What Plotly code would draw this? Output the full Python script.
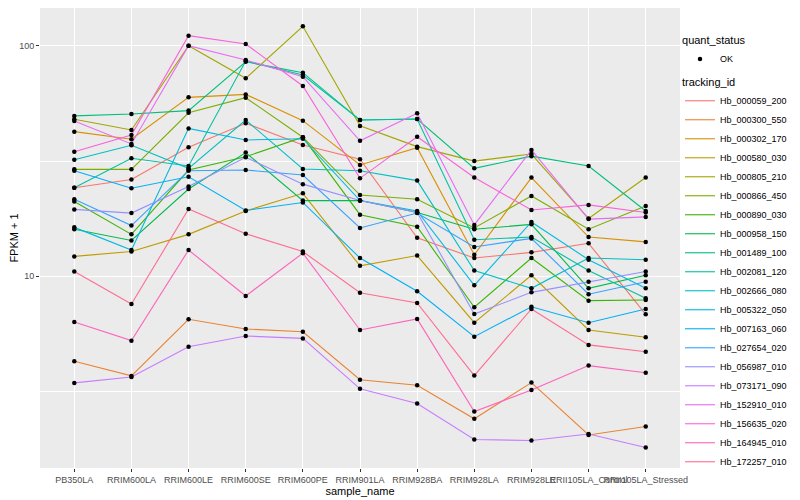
import plotly.graph_objects as go

# x categories
samples = ["PB350LA", "RRIM600LA", "RRIM600LE", "RRIM600SE", "RRIM600PE",
           "RRIM901LA", "RRIM928BA", "RRIM928LA", "RRIM928LE",
           "RRII105LA_Control", "RRII105LA_Stressed"]

# series (tracking_id) names and ggplot hue colours
tracking_ids = ["Hb_000059_200", "Hb_000300_550", "Hb_000302_170", "Hb_000580_030",
                "Hb_000805_210", "Hb_000866_450", "Hb_000890_030", "Hb_000958_150",
                "Hb_001489_100", "Hb_002081_120", "Hb_002666_080", "Hb_005322_050",
                "Hb_007163_060", "Hb_027654_020", "Hb_056987_010", "Hb_073171_090",
                "Hb_152910_010", "Hb_156635_020", "Hb_164945_010", "Hb_172257_010"]
colors = ["#F8766D", "#EA8331", "#D89000", "#C09B00", "#A3A500", "#7CAE00", "#39B600",
          "#00BB4E", "#00BF7D", "#00C1A3", "#00BFC4", "#00BAE0", "#00B0F6", "#35A2FF",
          "#9590FF", "#C77CFF", "#E76BF3", "#FA62DB", "#FF62BC", "#FF6C91"]

# FPKM + 1 values, one list per tracking_id
Hb_000059_200 = [24.2, 26.3, 36.3, 46.1, 37.1, 32.2, 14.7, 12.0, 12.7, 13.9, 6.84]
Hb_000300_550 = [4.28, 3.70, 6.51, 5.91, 5.75, 3.56, 3.37, 2.41, 3.46, 2.05, 2.23]
Hb_000302_170 = [42.4, 39.3, 59.7, 61.5, 47.3, 30.4, 36.1, 12.4, 26.8, 14.8, 14.1]
Hb_000580_030 = [12.2, 12.8, 15.2, 19.2, 22.9, 11.1, 12.3, 6.29, 10.1, 5.85, 5.44]
Hb_000805_210 = [48.0, 43.1, 100.0, 72.2, 121.4, 44.9, 36.5, 31.6, 33.9, 17.8, 26.8]
Hb_000866_450 = [29.1, 29.1, 51.2, 59.5, 40.1, 22.5, 21.6, 16.2, 22.3, 16.0, 20.2]
Hb_000890_030 = [21.1, 15.2, 28.9, 33.0, 40.1, 18.5, 16.4, 7.34, 12.0, 7.84, 7.89]
Hb_000958_150 = [16.0, 14.3, 23.9, 34.4, 21.3, 21.3, 18.9, 16.0, 16.8, 8.87, 10.1]
Hb_001489_100 = [49.6, 50.6, 52.3, 85.2, 76.4, 47.6, 48.1, 29.4, 33.2, 30.1, 19.2]
Hb_002081_120 = [24.2, 32.5, 30.1, 85.8, 74.6, 47.6, 48.1, 14.4, 14.8, 10.6, 8.03]
Hb_002666_080 = [32.0, 37.0, 29.4, 47.6, 29.2, 28.7, 26.0, 10.6, 8.87, 12.0, 11.8]
Hb_005322_050 = [16.3, 13.0, 43.8, 39.0, 39.5, 21.3, 19.2, 9.14, 17.2, 11.8, 8.87]
Hb_007163_060 = [28.7, 24.1, 27.0, 19.3, 20.9, 12.0, 8.61, 5.47, 7.38, 6.29, 7.22]
Hb_027654_020 = [21.6, 16.6, 28.7, 28.9, 27.5, 16.2, 18.8, 13.4, 14.6, 8.36, 9.47]
Hb_056987_010 = [19.5, 18.8, 24.5, 32.8, 25.1, 21.3, 18.9, 6.86, 8.52, 9.47, 10.5]
Hb_073171_090 = [3.45, 3.66, 4.95, 5.51, 5.38, 3.25, 2.81, 1.96, 1.94, 2.07, 1.81]
Hb_152910_010 = [47.2, 37.5, 100.0, 86.7, 73.4, 38.7, 50.9, 16.7, 35.3, 17.7, 18.1]
Hb_156635_020 = [34.7, 41.0, 110.5, 101.7, 66.9, 26.6, 40.3, 26.8, 19.4, 20.4, 18.9]
Hb_164945_010 = [6.34, 5.26, 13.0, 8.22, 12.6, 5.85, 6.53, 2.59, 3.21, 4.10, 3.82]
Hb_172257_010 = [10.5, 7.58, 19.6, 15.3, 12.8, 8.49, 7.66, 3.71, 7.22, 5.04, 4.71]

series = [Hb_000059_200, Hb_000300_550, Hb_000302_170, Hb_000580_030, Hb_000805_210,
          Hb_000866_450, Hb_000890_030, Hb_000958_150, Hb_001489_100, Hb_002081_120,
          Hb_002666_080, Hb_005322_050, Hb_007163_060, Hb_027654_020, Hb_056987_010,
          Hb_073171_090, Hb_152910_010, Hb_156635_020, Hb_164945_010, Hb_172257_010]

quant_status = "OK"

FONT = "Liberation Sans, Arial, sans-serif"

fig = go.Figure()
for name, col, vals in zip(tracking_ids, colors, series):
    fig.add_trace(go.Scatter(
        x=samples, y=vals, mode="lines", name=name,
        line=dict(color=col, width=1.1),
        legend="legend2",
        hoverinfo="x+y+name"))

# black points (quant_status = OK)
all_x, all_y = [], []
for vals in series:
    all_x += samples
    all_y += vals
fig.add_trace(go.Scatter(
    x=all_x, y=all_y, mode="markers", name=quant_status,
    marker=dict(color="black", size=4.5, symbol="circle"),
    legend="legend", showlegend=True))

grid = "#FFFFFF"
# the page has an 8px body margin, so the figure is 8px smaller than the window
W, H = 792, 492
fig.update_layout(
    width=W, height=H,
    margin=dict(l=32, r=116, t=0, b=32, pad=0),
    paper_bgcolor="white",
    plot_bgcolor="#EBEBEB",
    font=dict(family=FONT, size=9, color="#4D4D4D"),
    showlegend=True,
    legend=dict(
        title=dict(text="quant_status", font=dict(size=11, color="black")),
        xref="container", yref="container", x=0.8485, y=0.955,
        xanchor="left", yanchor="top",
        font=dict(size=9, color="black"), bgcolor="rgba(0,0,0,0)",
        itemwidth=30),
    legend2=dict(
        title=dict(text="tracking_id", font=dict(size=11, color="black")),
        xref="container", yref="container", x=0.8485, y=0.870,
        xanchor="left", yanchor="top",
        font=dict(size=9, color="black"), bgcolor="rgba(0,0,0,0)",
        tracegroupgap=0, itemwidth=30, maxheight=440),
    xaxis=dict(
        type="category", categoryorder="array", categoryarray=samples,
        range=[-0.6, len(samples) - 0.4],
        showgrid=True, gridcolor=grid, gridwidth=1.1,
        ticks="outside", ticklen=3, tickcolor="#333333", tickwidth=1,
        tickangle=0, tickfont=dict(size=9, color="#4D4D4D"),
        zeroline=False, showline=False, automargin=False,
        title=dict(text="sample_name", font=dict(size=11, color="black"), standoff=0)),
    yaxis=dict(
        type="log", range=[0.1687, 2.1635],
        tickvals=[10, 100], ticktext=["10", "100"],
        showgrid=True, gridcolor=grid, gridwidth=1.1,
        minor=dict(tickvals=[3.1623, 31.623], showgrid=True, gridcolor=grid,
                   gridwidth=0.5, ticks=""),
        ticks="outside", ticklen=3, tickcolor="#333333", tickwidth=1,
        tickfont=dict(size=9, color="#4D4D4D"),
        zeroline=False, showline=False, automargin=False,
        title=dict(text="FPKM + 1", font=dict(size=11, color="black"), standoff=4)),
)

fig.write_html("out.html")
